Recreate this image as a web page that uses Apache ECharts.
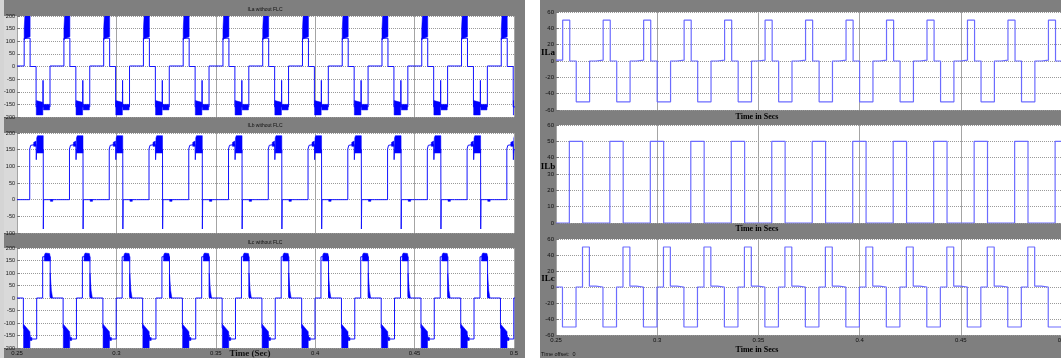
<!DOCTYPE html>
<html><head><meta charset="utf-8">
<script src="https://cdn.jsdelivr.net/npm/echarts@6/dist/echarts.min.js"></script>
<style>
html,body{margin:0;padding:0;width:1061px;height:358px;overflow:hidden;background:#fff}
.bg{position:absolute}
#chart{position:absolute;left:0;top:0;width:1061px;height:358px}
</style></head><body>
<div class="bg" style="left:0;top:0;width:525px;height:358px;background:#7f7f7f"></div>
<div class="bg" style="left:0;top:0;width:4px;height:358px;background:#d4d4d4"></div>
<div class="bg" style="left:4px;top:16px;width:13px;height:101px;background:#d9d9d9"></div>
<div class="bg" style="left:4px;top:133px;width:13px;height:100px;background:#d9d9d9"></div>
<div class="bg" style="left:4px;top:248px;width:13px;height:100px;background:#d9d9d9"></div>
<div class="bg" style="left:540px;top:0;width:521px;height:358px;background:#7f7f7f"></div>
<div id="chart"></div>
<script>
// ---- data (times in ms inside one 20 ms mains cycle, values in A) ----
const xTicks = [0.25, 0.3, 0.35, 0.4, 0.45, 0.5];
const cycleMs = 20;
const cycleCount = 13;
// left panel: without FLC
const leftATrace = [[0,2],[3.6,2],[3.6,112],[6.6,112],[6.6,0],[9.6,0],[9.6,-160],[13.0,-160],[13.1,-55],[13.2,-160],[16.6,-160],[16.6,2],[20,2]];
const leftABlocks = [
  [[3.6,105],[3.6,150],[4.0,210],[6.6,210],[6.6,118],[4.0,110]],
  [[9.7,-135],[13.0,-142],[13.0,-192],[9.7,-192]],
  [[13.3,-150],[16.4,-150],[16.4,-172],[13.3,-172]]
];
const leftBTrace = [[0,0],[6.4,0],[6.4,152],[6.9,152],[6.9,163],[9.6,166],[9.7,120],[9.9,150],[13.2,150],[13.25,-88],[13.4,0],[20,0]];
const leftBBlocks = [
  [[8.4,160],[8.4,172],[9.6,176],[9.6,160]],
  [[9.9,140],[9.9,185],[10.3,192],[13.2,192],[13.2,140]],
  [[16.8,0],[16.8,-5],[18.0,-5],[18.0,0]]
];
const leftCTrace = [[0,0],[3.2,0],[3.2,-120],[6.6,-150],[6.6,-164],[9.9,-164],[9.9,0],[12.9,0],[12.9,165],[16.7,165],[16.7,5],[17.9,0],[20,0]];
const leftCBlocks = [
  [[3.3,-105],[6.5,-135],[6.5,-205],[3.3,-205]],
  [[6.6,-158],[7.5,-158],[7.5,-170],[6.6,-170]],
  [[13.7,148],[13.8,172],[14.3,180],[16.4,178],[16.7,165],[16.7,148]],
  [[16.7,100],[17.3,30],[17.9,0],[16.7,0]]
];
// right panel
const rightATrace = [[0,1],[3.3,1],[3.3,50],[6.8,50],[6.8,0],[10.0,0],[10.0,-50],[16.6,-50],[16.6,0],[19.8,0],[19.8,1],[20,1]];
const rightBTrace = [[0,0],[6.6,0],[6.6,50],[13.2,50],[13.2,0],[20,0]];
const rightCTrace = [[0,0],[3.2,0],[3.2,-50],[9.9,-50],[9.9,0],[13.1,0],[13.1,50],[16.5,50],[16.5,1],[19.7,1],[19.7,0],[20,0]];
// axes
const yRanges = [[-200,200,50],[-100,200,50],[-200,200,50],[-60,60,20],[0,60,10],[-60,60,20]];
const leftTitles = ['ILa without FLC','ILb without FLC','ILc without FLC'];
const rightNames = ['ILa','ILb','ILc'];
const rightXName = 'Time in Secs';
const leftXName = 'Time (Sec)';
const offsetText = 'Time offset:  0';

// ---- layout ----
const grids = [
  {left:17, top:16, width:497, height:101},
  {left:17, top:133, width:497, height:100},
  {left:17, top:248, width:497, height:100},
  {left:556, top:12, width:506, height:98},
  {left:556, top:125, width:506, height:98},
  {left:556, top:239, width:506, height:96}
];
function tile(trace){
  const out=[];
  for(let k=0;k<cycleCount;k++){
    const base = xTicks[0] + k*cycleMs/1000;
    trace.forEach(([ms,v])=>out.push([+(base+ms/1000).toFixed(6), v]));
  }
  return out;
}
function tileBlocks(blocks){
  const out=[];
  for(let k=0;k<cycleCount;k++){
    const base = xTicks[0] + k*cycleMs/1000;
    blocks.forEach(b=>out.push(b.map(([ms,v])=>[+(base+ms/1000).toFixed(6), v])));
  }
  return out;
}
const fmt = v => String(Math.round(v*100)/100);
const xAxis = grids.map((g,i)=>({
  type:'value', gridIndex:i, min:xTicks[0], max:xTicks[xTicks.length-1], interval:0.05,
  axisLine:{show:false}, axisTick:{show:false},
  axisLabel:{show: i===2||i===5, fontSize:6, color:'#111', margin:2, formatter:fmt, fontFamily:'Liberation Sans', showMaxLabel:true, showMinLabel:true},
  splitLine:{show:true, lineStyle:{color:'#a4a4a4', width:1}}
}));
const yAxis = grids.map((g,i)=>({
  type:'value', gridIndex:i, min:yRanges[i][0], max:yRanges[i][1], interval:yRanges[i][2],
  axisLine:{show:false}, axisTick:{show:true, inside:true, length:3, lineStyle:{color:'#777'}},
  axisLabel:{fontSize: i<3?5.5:6, color:'#111', margin:2, fontFamily:'Liberation Sans'},
  splitLine:{show:true, lineStyle:{type:'dotted', color:'#9a9a9a', width:1}}
}));
const leftTraces=[leftATrace,leftBTrace,leftCTrace];
const leftBlocks=[leftABlocks,leftBBlocks,leftCBlocks];
const rightTraces=[rightATrace,rightBTrace,rightCTrace];
const series=[];
leftTraces.forEach((tr,i)=>{
  series.push({type:'line', xAxisIndex:i, yAxisIndex:i, data:tile(tr), symbol:'none', clip:true, silent:true,
    lineStyle:{color:'#1414ff', width:1}, z:3});
  const polys = tileBlocks(leftBlocks[i]);
  series.push({type:'custom', xAxisIndex:i, yAxisIndex:i, clip:true, silent:true, z:4,
    data: polys.map((p,j)=>[p[0][0], p[0][1], j]),
    renderItem:(params, api)=>({type:'polygon', shape:{points: polys[params.dataIndex].map(pt=>api.coord(pt))},
      style:{fill:'#0000ff', stroke:'#0000ff', lineWidth:0.5}})
  });
});
rightTraces.forEach((tr,i)=>{
  series.push({type:'line', xAxisIndex:i+3, yAxisIndex:i+3, data:tile(tr), symbol:'none', clip:true, silent:true,
    lineStyle:{color:'#6c6cff', width:1.2}, z:3});
});
const graphic=[];
const titleY=[10,126,243];
leftTitles.forEach((t,i)=>graphic.push({type:'text', x:265, y:titleY[i], style:{text:t, fill:'#111', font:'5px "Liberation Sans"', align:'center', verticalAlign:'middle'}}));
graphic.push({type:'text', x:250, y:354, style:{text:leftXName, fill:'#111', font:'bold 9px "Liberation Serif"', align:'center', verticalAlign:'middle'}});
const nameY=[53,167,279];
rightNames.forEach((t,i)=>graphic.push({type:'text', x:548, y:nameY[i], style:{text:t, fill:'#000', font:'bold 9px "Liberation Serif"', align:'center', verticalAlign:'middle'}}));
[117,229,350].forEach(y=>graphic.push({type:'text', x:757, y:y, style:{text:rightXName, fill:'#000', font:'bold 8px "Liberation Serif"', align:'center', verticalAlign:'middle'}}));
graphic.push({type:'text', x:541, y:354, style:{text:offsetText, fill:'#111', font:'5.5px "Liberation Sans"', align:'left', verticalAlign:'middle'}});

const chart = echarts.init(document.getElementById('chart'), null, {renderer:'canvas'});
chart.setOption({
  animation:false,
  backgroundColor:'transparent',
  grid: grids.map(g=>Object.assign({show:true, backgroundColor:'#ffffff', borderWidth:0, containLabel:false, outerBoundsMode:'none'}, g)),
  xAxis, yAxis, series, graphic
});
</script>
</body></html>
